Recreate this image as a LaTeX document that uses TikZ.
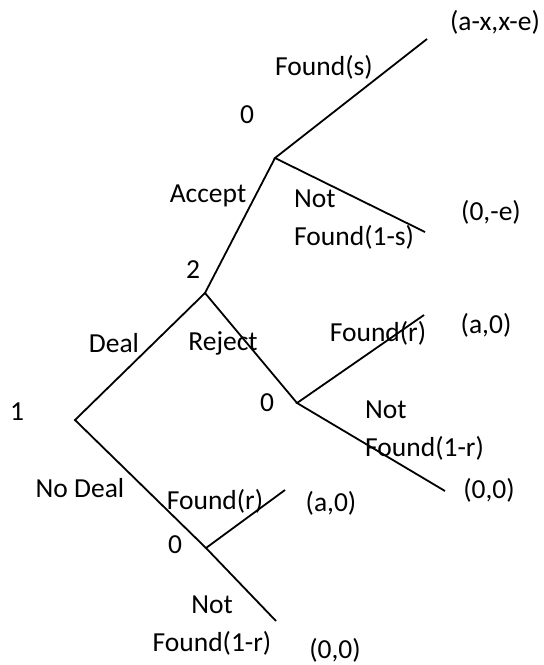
\documentclass[tikz,border=0pt]{standalone}
\usepackage{fontspec}
\setmainfont{Carlito}
\begin{document}
\begin{tikzpicture}[x=1pt,y=-1pt,
  branch/.style={line width=1.8pt},
  lbl/.style={inner sep=0pt, font=\fontsize{27.5}{33}\selectfont},
]
\useasboundingbox (0,0) rectangle (544,665);

% decision and chance points
\coordinate (root) at (75,420);
\coordinate (deal) at (205,293);
\coordinate (acc)  at (275,158);
\coordinate (rej)  at (297,403);
\coordinate (nod)  at (206,548);
% terminal points
\coordinate (accF) at (427,39);
\coordinate (accN) at (425,232);
\coordinate (rejF) at (424,315);
\coordinate (rejN) at (445,491);
\coordinate (nodF) at (285,490);
\coordinate (nodN) at (276,621);

% branches
\draw[branch] (deal) -- (root) -- (nod);
\draw[branch] (acc) -- (deal) -- (rej);
\draw[branch] (accF) -- (acc) -- (accN);
\draw[branch] (rejF) -- (rej) -- (rejN);
\draw[branch] (nodF) -- (nod) -- (nodN);

% player labels
\node[lbl] (p1)  at (17,412)  {1};
\node[lbl] (p2)  at (193,270) {2};
\node[lbl] (c1)  at (247,115) {0};
\node[lbl] (c2)  at (267,403) {0};
\node[lbl] (c3)  at (175,545) {0};

% move labels
\node[lbl] (lDeal)   at (114,343) {Deal};
\node[lbl] (lNoDeal) at (80,488)  {No Deal};
\node[lbl] (lAcc)    at (208,196) {Accept};
\node[lbl] (lRej)    at (223,343) {Reject};
\node[lbl] (lFs)     at (324,67)  {Found(s)};
\node[lbl,anchor=west] (lNs1) at (294,199) {Not};
\node[lbl,anchor=west] (lNs2) at (294,237) {Found(1-s)};
\node[lbl] (lFr1)    at (378,333) {Found(r)};
\node[lbl,anchor=west] (lNr1) at (365,410) {Not};
\node[lbl,anchor=west] (lNr2) at (365,448) {Found(1-r)};
\node[lbl] (lFr2)    at (215,501) {Found(r)};
\node[lbl] (lNr3)    at (212,605) {Not};
\node[lbl] (lNr4)    at (212,643) {Found(1-r)};

% payoffs
\node[lbl] (pay1) at (495,22)  {(a-x,x-e)};
\node[lbl] (pay2) at (491,212) {(0,-e)};
\node[lbl] (pay3) at (486,325) {(a,0)};
\node[lbl] (pay4) at (489,490) {(0,0)};
\node[lbl] (pay5) at (331,503) {(a,0)};
\node[lbl] (pay6) at (335,650) {(0,0)};
\end{tikzpicture}
\end{document}
